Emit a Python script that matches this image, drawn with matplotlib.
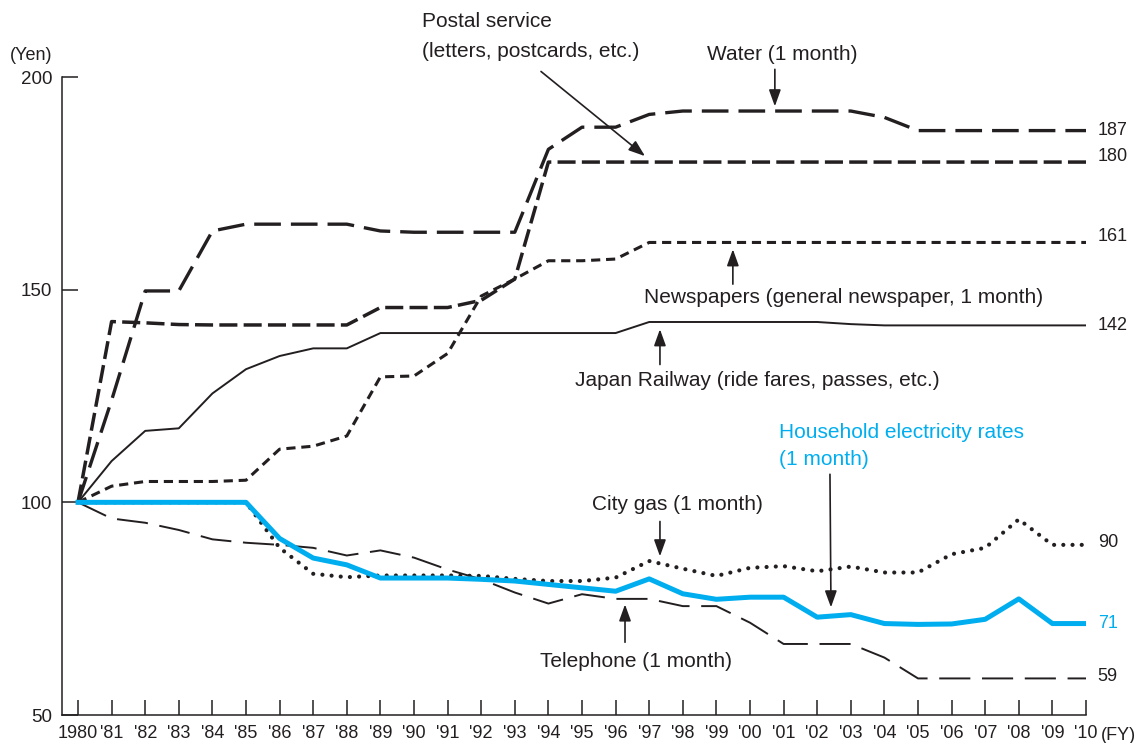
import numpy as np
import matplotlib
matplotlib.use("Agg")
import matplotlib.pyplot as plt

plt.rcParams['font.family'] = ['Liberation Sans', 'DejaVu Sans']

# fiscal years 1980 .. 2010, index 1980 = 100
years = list(range(1980, 2011))

water = [100, 124, 149.7, 149.7, 163.8, 165.4, 165.4, 165.4, 165.4, 163.8,
         163.5, 163.5, 163.5, 163.5, 183.0, 188.2, 188.2, 191.2, 192.0, 192.0,
         192.0, 192.0, 192.0, 192.0, 190.5, 187.4, 187.4, 187.4, 187.4, 187.4, 187.4]
postal = [100, 142.5, 142.2, 141.8, 141.7, 141.7, 141.7, 141.7, 141.7, 145.8,
          145.8, 145.8, 147.5, 152.5, 180, 180, 180, 180, 180, 180,
          180, 180, 180, 180, 180, 180, 180, 180, 180, 180, 180]
newspaper = [100, 103.8, 104.9, 104.9, 104.9, 105.2, 112.5, 113.2, 115.6, 129.5,
             129.7, 135.0, 148.5, 152.5, 156.8, 156.8, 157.2, 161.1, 161.1, 161.1,
             161.1, 161.1, 161.1, 161.1, 161.1, 161.1, 161.1, 161.1, 161.1, 161.1, 161.1]
railway = [100, 109.7, 116.8, 117.4, 125.6, 131.3, 134.4, 136.2, 136.2, 139.8,
           139.8, 139.8, 139.8, 139.8, 139.8, 139.8, 139.8, 142.4, 142.4, 142.4,
           142.4, 142.4, 142.4, 141.9, 141.6, 141.6, 141.6, 141.6, 141.6, 141.6, 141.6]
electricity = [100, 100, 100, 100, 100, 100, 91.5, 86.9, 85.3, 82.2,
               82.2, 82.2, 81.9, 81.5, 80.7, 79.9, 79.1, 82.0, 78.5, 77.2,
               77.7, 77.7, 73.0, 73.6, 71.5, 71.3, 71.4, 72.5, 77.3, 71.5, 71.5]
city_gas = [100, 100, 100, 100, 100, 100, 89.3, 83.2, 82.4, 82.8,
            82.8, 82.8, 82.7, 82.0, 81.5, 81.5, 82.3, 86.2, 84.4, 82.7,
            84.6, 85.0, 83.8, 84.9, 83.5, 83.5, 87.8, 89.3, 96.0, 90.0, 90.0]
telephone = [100, 96.2, 95.2, 93.5, 91.3, 90.5, 90.0, 89.3, 87.5, 88.7,
             87.0, 84.2, 81.9, 78.8, 76.2, 78.4, 77.3, 77.3, 75.6, 75.6,
             71.7, 66.7, 66.7, 66.7, 63.5, 58.6, 58.6, 58.6, 58.6, 58.6, 58.6]

end_labels = ["187", "180", "161", "142", "90", "71", "59"]
xtick_labels = ["1980"] + ["'%02d" % (y % 100) for y in years[1:]]
ytick_values = [50, 100, 150, 200]

BLACK = "#231f20"
BLUE = "#00aeef"

fig = plt.figure(figsize=(11.37, 7.43), dpi=100)
ax = fig.add_axes([62 / 1137, 28 / 743, 1024 / 1137, 638 / 743])

# (series, linewidth, dash pattern, colour)
series = [
    (water, 2.4, (0, (8, 3)), BLACK),
    (postal, 2.5, (0, (5.2, 1.8)), BLACK),
    (newspaper, 2.2, (0, (3, 1.9)), BLACK),
    (railway, 1.4, "-", BLACK),
    (city_gas, 3.0, (0, (0.01, 2.2)), BLACK),
    (telephone, 1.4, (0, (16, 6)), BLACK),
    (electricity, 3.6, "-", BLUE),
]
label_shift = [0, 1.2, 1.4, 0, 0.6, 0.5, 0]
label_order = [0, 1, 2, 3, 4, 6, 5]

for vals, lw, ls, col in series:
    ax.plot(years, vals, color=col, lw=lw, linestyle=ls,
            solid_joinstyle="round",
            dash_capstyle="round" if vals is city_gas else "butt",
            dash_joinstyle="round", zorder=3 if col == BLUE else 2)

for k, idx in enumerate(label_order):
    vals, _, _, col = series[idx]
    ax.text(2010.35, vals[-1] + label_shift[idx], end_labels[k], color=col,
            fontsize=13, ha="left", va="center")

ax.set_xlim(1980 - 16 / 33.6, 2010)
ax.set_ylim(50, 200)
ax.set_xticks(years)
ax.set_xticklabels(xtick_labels)
ax.set_yticks(ytick_values)
ax.tick_params(axis="x", direction="in", length=11, width=1.1, pad=7,
               labelsize=13, colors=BLACK)
ax.tick_params(axis="y", direction="in", length=11.5, width=1.1, pad=7,
               labelsize=13.5, colors=BLACK)
for s in ["top", "right"]:
    ax.spines[s].set_visible(False)
for s in ["left", "bottom"]:
    ax.spines[s].set_linewidth(1.1)
    ax.spines[s].set_color(BLACK)

fig.text(52 / 1137, 1 - 55 / 743, "(Yen)", ha="right", va="center",
         fontsize=13, color=BLACK)
fig.text(1101 / 1137, 1 - 735 / 743, "(FY)", ha="left", va="center",
         fontsize=13, color=BLACK)

# callouts
fs = 15
ax.text(1990.24, 213.1, "Postal service", fontsize=fs, color=BLACK, va="center")
ax.text(1990.24, 206.0, "(letters, postcards, etc.)", fontsize=fs, color=BLACK, va="center")
ax.text(1998.72, 205.3, "Water (1 month)", fontsize=fs, color=BLACK, va="center")
ax.text(1996.85, 148.2, "Newspapers (general newspaper, 1 month)", fontsize=fs,
        color=BLACK, va="center")
ax.text(1994.79, 128.7, "Japan Railway (ride fares, passes, etc.)", fontsize=fs,
        color=BLACK, va="center")
ax.text(2000.86, 116.5, "Household electricity rates", fontsize=fs, color=BLUE, va="center")
ax.text(2000.86, 110.1, "(1 month)", fontsize=fs, color=BLUE, va="center")
ax.text(1995.3, 99.5, "City gas (1 month)", fontsize=fs, color=BLACK, va="center")
ax.text(1993.75, 62.6, "Telephone (1 month)", fontsize=fs, color=BLACK, va="center")

arrows = [
    ((1993.78, 201.3), (1996.875, 181.4)),
    ((2000.74, 201.8), (2000.74, 193.1)),
    ((1999.49, 151.3), (1999.49, 159.5)),
    ((1997.32, 132.4), (1997.32, 140.7)),
    ((2002.38, 106.6), (2002.41, 75.3)),
    ((1997.32, 95.5), (1997.32, 87.3)),
    ((1996.28, 67.1), (1996.28, 76.0)),
]
for start, tip in arrows:
    ax.annotate("", xy=tip, xytext=start, annotation_clip=False,
                arrowprops=dict(arrowstyle="-|>,head_length=0.5,head_width=0.18",
                                mutation_scale=20, lw=1.2, color=BLACK,
                                shrinkA=0, shrinkB=0))

fig.savefig("out.png", dpi=100)
